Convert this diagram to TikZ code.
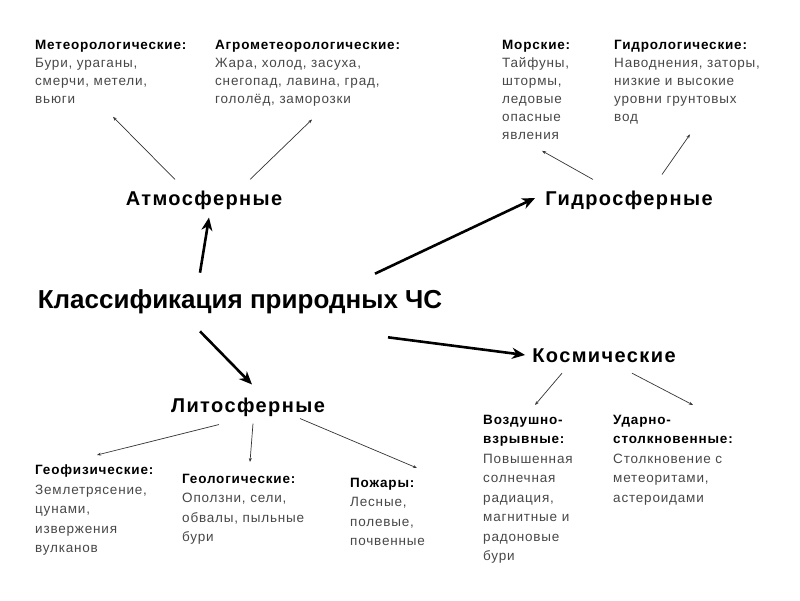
\documentclass[tikz,border=0pt]{standalone}
\usepackage{fontspec}
\setmainfont{Liberation Sans}[LetterSpace=6]
\newfontfamily\headfont{Liberation Sans}[LetterSpace=7]
\newfontfamily\titlefont{Liberation Sans}
\usepackage{tikz}
\usetikzlibrary{arrows.meta}

\definecolor{bodygray}{HTML}{474747}
\newcommand{\hd}[1]{{\color{black}\bfseries #1}}

\begin{document}
\begin{tikzpicture}[x=1pt, y=-1pt,
    head node/.style={font=\headfont\bfseries\fontsize{20}{23}\selectfont, inner sep=0pt},
    info node/.style={anchor=north west, align=left, inner sep=0pt, text=bodygray,
      font=\fontsize{13.5}{18}\selectfont},
    low node/.style={info node, font=\fontsize{13.5}{19.5}\selectfont},
    big arrow/.style={line width=2.6pt, -{Stealth[length=13pt,width=11pt,inset=4pt]}},
    thin arrow/.style={line width=0.7pt, draw=black!80, -{Stealth[length=4pt,width=3pt]}},
    ]
  \useasboundingbox (0,0) rectangle (800,600);

  % main node and branches
  \node[head node, font=\titlefont\bfseries\fontsize{26}{30}\selectfont] (title) at (240,302) {Классификация природных ЧС};
  \node[head node] (atmo) at (204,200) {Атмосферные};
  \node[head node] (hydro) at (629,200) {Гидросферные};
  \node[head node] (kosm) at (604,356) {Космические};
  \node[head node] (lito) at (248,407) {Литосферные};

  % top groups
  \node[info node] (meteo) at (35,40) {\hd{Метеорологические:}\\Бури, ураганы,\\смерчи, метели,\\вьюги};
  \node[info node] (agro) at (215,40) {\hd{Агрометеорологические:}\\Жара, холод, засуха,\\снегопад, лавина, град,\\гололёд, заморозки};
  \node[info node] (sea) at (502,40) {\hd{Морские:}\\Тайфуны,\\штормы,\\ледовые\\опасные\\явления};
  \node[info node] (hydrol) at (614,40) {\hd{Гидрологические:}\\Наводнения, заторы,\\низкие и высокие\\уровни грунтовых\\вод};

  % bottom groups
  \node[low node] (geoph) at (35,465) {\hd{Геофизические:}\\Землетрясение,\\цунами,\\извержения\\вулканов};
  \node[low node] (geol) at (182,474) {\hd{Геологические:}\\Оползни, сели,\\обвалы, пыльные\\бури};
  \node[low node] (fire) at (350,478) {\hd{Пожары:}\\Лесные,\\полевые,\\почвенные};
  \node[low node] (air) at (483,415) {\hd{Воздушно-}\\\hd{взрывные:}\\Повышенная\\солнечная\\радиация,\\магнитные и\\радоновые\\бури};
  \node[low node] (hit) at (613,415) {\hd{Ударно-}\\\hd{столкновенные:}\\Столкновение с\\метеоритами,\\астероидами};

  % thick arrows
  \draw[big arrow] ([shift={(-40,-17)}]title.north) -- ([shift={(5,8)}]atmo.south);
  \draw[big arrow] ([shift={(135,-16)}]title.north) -- ([shift={(-10,-2)}]hydro.west);
  \draw[big arrow] ([shift={(148,23)}]title.south) -- ([shift={(-7,-1)}]kosm.west);
  \draw[big arrow] ([shift={(-40,17)}]title.south) -- ([shift={(4,-13)}]lito.north);

  % thin arrows
  \draw[thin arrow] ([shift={(-29,-11)}]atmo.north) -- ([shift={(78,13)}]meteo.south west);
  \draw[thin arrow] ([shift={(46,-11)}]atmo.north) -- ([shift={(97,13)}]agro.south west);
  \draw[thin arrow] ([shift={(-36,-11)}]hydro.north) -- ([shift={(40,11)}]sea.south west);
  \draw[thin arrow] ([shift={(33,-16)}]hydro.north) -- ([shift={(76,10)}]hydrol.south west);
  \draw[thin arrow] ([shift={(-29,8)}]lito.south) -- ([shift={(62,-10)}]geoph.north west);
  \draw[thin arrow] ([shift={(5,7)}]lito.south) -- ([shift={(68,-12)}]geol.north west);
  \draw[thin arrow] ([shift={(52,2)}]lito.south) -- ([shift={(67,-10)}]fire.north west);
  \draw[thin arrow] ([shift={(-42,10)}]kosm.south) -- ([shift={(52,-10)}]air.north west);
  \draw[thin arrow] ([shift={(28,10)}]kosm.south) -- ([shift={(80,-10)}]hit.north west);
\end{tikzpicture}
\end{document}
